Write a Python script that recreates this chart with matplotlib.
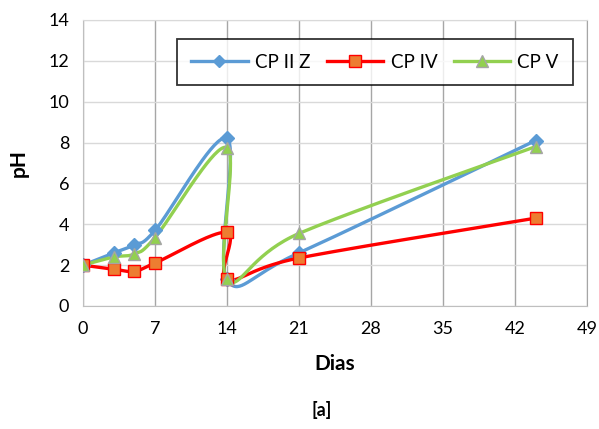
import numpy as np
import matplotlib.pyplot as plt

plt.rcParams['font.family'] = ['Lato', 'DejaVu Sans']

dias = [0, 3, 5, 7, 14, 14, 21, 44]
cp_ii_z = [2.0, 2.6, 3.0, 3.7, 8.2, 1.3, 2.6, 8.1]
cp_iv = [2.0, 1.8, 1.7, 2.1, 3.6, 1.3, 2.35, 4.3]
cp_v = [2.0, 2.4, 2.55, 3.35, 7.75, 1.3, 3.55, 7.8]

x_ticks = [0, 7, 14, 21, 28, 35, 42, 49]
y_ticks = [0, 2, 4, 6, 8, 10, 12, 14]

# pixel scale of one unit on each axis, so the smoothing is done in screen space
SX = 504 / 49
SY = 286 / 14


def smooth(xs, ys, n=40):
    px = np.array(xs, float) * SX
    py = np.array(ys, float) * SY
    pts = np.column_stack([px, py])
    out = []
    for i in range(len(pts) - 1):
        p0 = pts[max(i - 1, 0)]
        p1 = pts[i]
        p2 = pts[i + 1]
        p3 = pts[min(i + 2, len(pts) - 1)]
        c1 = p1 + (p2 - p0) / 6
        c2 = p2 - (p3 - p1) / 6
        t = np.linspace(0, 1, n)[:, None]
        seg = ((1 - t) ** 3) * p1 + 3 * ((1 - t) ** 2) * t * c1 + 3 * (1 - t) * t ** 2 * c2 + t ** 3 * p2
        out.append(seg)
    out = np.vstack(out)
    return out[:, 0] / SX, out[:, 1] / SY


fig = plt.figure(figsize=(5.99, 4.29), dpi=100)
ax = fig.add_axes([83 / 599, 123 / 429, 504 / 599, 286 / 429])

series = [
    ('CP II Z', cp_ii_z, '#5B9BD5', 'D', '#5B9BD5', '#5B9BD5', 7),
    ('CP IV', cp_iv, '#FF0000', 's', '#ED7D31', '#FF0000', 9),
    ('CP V', cp_v, '#92D050', '^', '#92D050', '#A5A5A5', 9),
]

for name, vals, color, mk, face, edge, ms in series:
    sx, sy = smooth(dias, vals)
    ax.plot(sx, sy, color=color, lw=2.4, solid_capstyle='round', zorder=3)
    ax.plot(dias, vals, linestyle='none', marker=mk, markersize=ms,
            markerfacecolor=face, markeredgecolor=edge, markeredgewidth=1, zorder=4)
    ax.plot([], [], color=color, lw=2.4, marker=mk, markersize=ms - 1,
            markerfacecolor=face, markeredgecolor=edge, label=name)

ax.set_xlim(0, 49)
ax.set_ylim(0, 14)
ax.set_xticks(x_ticks)
ax.set_yticks(y_ticks)
ax.tick_params(length=0, labelsize=13)
ax.tick_params(axis='x', pad=11)
ax.tick_params(axis='y', pad=10)
ax.xaxis.grid(True, color='#A6A6A6', lw=1)
ax.yaxis.grid(True, color='#D9D9D9', lw=1)
ax.set_axisbelow(True)
for s in ['left', 'bottom']:
    ax.spines[s].set_color('#BFBFBF')
ax.spines['right'].set_color('#A6A6A6')
ax.spines['top'].set_color('#D9D9D9')

ax.set_xlabel('Dias', fontsize=15, fontweight='bold', labelpad=12)
ax.set_ylabel('pH', fontsize=15, fontweight='bold', labelpad=14)
fig.text(322 / 599, 19 / 429, '[a]', fontsize=13, fontweight='bold', ha='center', va='center')

leg = ax.legend(loc='center', bbox_to_anchor=(0.187, 0.762, 0.785, 0.182), mode='expand',
                ncol=3, frameon=True, fancybox=False, fontsize=13.5, handlelength=3,
                borderaxespad=0, columnspacing=1.2, handletextpad=0.4, borderpad=0.75)
leg.get_frame().set_edgecolor('black')
leg.get_frame().set_linewidth(1.3)

fig.savefig('out.png', dpi=100)
